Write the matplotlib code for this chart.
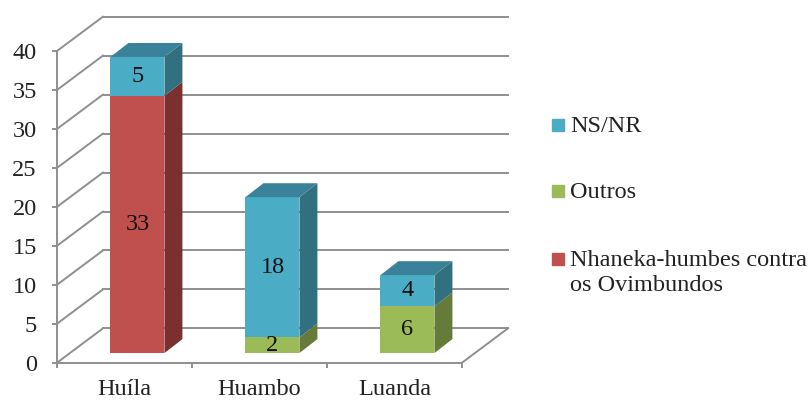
import matplotlib.pyplot as plt
from matplotlib.patches import Rectangle

plt.rcParams['font.family'] = ['Liberation Serif', 'DejaVu Serif']

categories = ['Huíla', 'Huambo', 'Luanda']
nhaneka = [33, 0, 0]
outros = [0, 2, 6]
ns_nr = [5, 18, 4]
y_ticks = [0, 5, 10, 15, 20, 25, 30, 35, 40]

series = [
    (nhaneka, '#C0504D', '#7B2F2E', '#8E3A38'),
    (outros, '#9BBB59', '#667A3A', '#7A9446'),
    (ns_nr, '#4BACC6', '#31707F', '#3A8299'),
]
legend_labels = ['NS/NR', 'Outros', 'Nhaneka-humbes contra\nos Ovimbundos']
legend_colors = ['#4BACC6', '#9BBB59', '#C0504D']
legend_y = [125, 191, 259]

W, H = 810, 401
GREY = '#8F8F8F'
FS = 17.5

# wall depth and bar depth, in data units
wall_dx, wall_dy = 0.34, 4.4
bar_off_x, bar_off_y = 0.096, 1.24
bar_dx, bar_dy = 0.133, 1.79
bar_w = 0.4

fig = plt.figure(figsize=(8.10, 4.01), dpi=100)
ax = fig.add_axes([57 / W, 1 - 362.7 / H, 405 / W, 311.7 / H])
ax.set_xlim(0, 3)
ax.set_ylim(0, 40)
for s in ['top', 'right']:
    ax.spines[s].set_visible(False)
for s in ['left', 'bottom']:
    ax.spines[s].set_color(GREY)
    ax.spines[s].set_linewidth(1.4)

ax.set_yticks(y_ticks)
ax.set_xticks([0, 1, 2, 3])
ax.set_xticklabels([])
ax.tick_params(axis='both', color=GREY, width=1.4, length=3.5)
ax.tick_params(axis='y', labelsize=FS, labelcolor='#222222', pad=11)

# back wall, left wall and floor
for v in y_ticks:
    ax.plot([wall_dx, 3 + wall_dx], [v + wall_dy, v + wall_dy], color=GREY, lw=1.4,
            clip_on=False, zorder=1)
    ax.plot([0, wall_dx], [v, v + wall_dy], color=GREY, lw=1.4, clip_on=False, zorder=1)
ax.plot([3, 3 + wall_dx], [0, wall_dy], color=GREY, lw=1.4, clip_on=False, zorder=1)

for i, cat in enumerate(categories):
    ax.text(i + 0.5, -3.4, cat, ha='center', va='center', fontsize=FS, color='#222222')
    left = i + 0.5 + bar_off_x - bar_w / 2
    right = left + bar_w
    bottom = bar_off_y
    top_color = None
    for values, front, side, top in series:
        v = values[i]
        if v == 0:
            continue
        ax.bar(left + bar_w / 2, v, bar_w, bottom=bottom, color=front, zorder=3, clip_on=False)
        ax.fill([right, right + bar_dx, right + bar_dx, right],
                [bottom, bottom + bar_dy, bottom + v + bar_dy, bottom + v],
                color=side, lw=0, zorder=3, clip_on=False)
        ax.text(left + bar_w / 2, bottom + v / 2, str(v), ha='center', va='center',
                fontsize=FS, color='#111111', zorder=4)
        bottom += v
        top_color = top
    ax.fill([left, right, right + bar_dx, left + bar_dx],
            [bottom, bottom, bottom + bar_dy, bottom + bar_dy],
            color=top_color, lw=0, zorder=3, clip_on=False)

# legend
for label, color, y in zip(legend_labels, legend_colors, legend_y):
    fig.add_artist(Rectangle((552 / W, 1 - (y + 6) / H), 12 / W, 12 / H, color=color,
                             transform=fig.transFigure))
    va = 'center' if '\n' not in label else 'top'
    ty = y + 2 if '\n' not in label else y - 9
    fig.text(570 / W, 1 - ty / H, label, ha='left', va=va, fontsize=FS,
             color='#222222', linespacing=1.25)

fig.savefig('out.png', dpi=100)
